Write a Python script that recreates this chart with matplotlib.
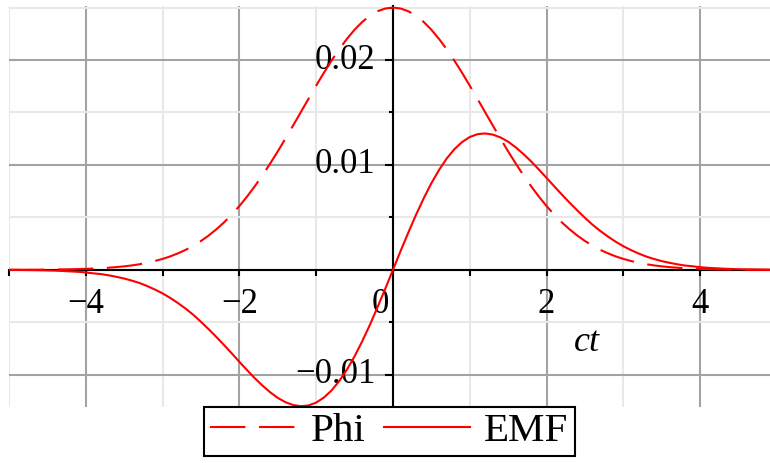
import matplotlib.pyplot as plt
from matplotlib.ticker import MultipleLocator

plt.rcParams['font.family'] = ['Liberation Serif', 'DejaVu Serif']

# values, step 0.1 in ct
ct = [-5.0, -4.9, -4.8, -4.7, -4.6, -4.5, -4.4, -4.3, -4.2, -4.1,
      -4.0, -3.9, -3.8, -3.7, -3.6, -3.5, -3.4, -3.3, -3.2, -3.1,
      -3.0, -2.9, -2.8, -2.7, -2.6, -2.5, -2.4, -2.3, -2.2, -2.1,
      -2.0, -1.9, -1.8, -1.7, -1.6, -1.5, -1.4, -1.3, -1.2, -1.1,
      -1.0, -0.9, -0.8, -0.7, -0.6, -0.5, -0.4, -0.3, -0.2, -0.1,
      0.0, 0.1, 0.2, 0.3, 0.4, 0.5, 0.6, 0.7, 0.8, 0.9,
      1.0, 1.1, 1.2, 1.3, 1.4, 1.5, 1.6, 1.7, 1.8, 1.9,
      2.0, 2.1, 2.2, 2.3, 2.4, 2.5, 2.6, 2.7, 2.8, 2.9,
      3.0, 3.1, 3.2, 3.3, 3.4, 3.5, 3.6, 3.7, 3.8, 3.9,
      4.0, 4.1, 4.2, 4.3, 4.4, 4.5, 4.6, 4.7, 4.8, 4.9, 5.0]
phi = [0.00000, 0.00000, 0.00000, 0.00001, 0.00001, 0.00002, 0.00003, 0.00004, 0.00005, 0.00007,
       0.00009, 0.00012, 0.00015, 0.00020, 0.00026, 0.00033, 0.00042, 0.00053, 0.00067, 0.00084,
       0.00104, 0.00128, 0.00157, 0.00190, 0.00229, 0.00275, 0.00327, 0.00386, 0.00452, 0.00526,
       0.00608, 0.00698, 0.00796, 0.00900, 0.01012, 0.01129, 0.01251, 0.01376, 0.01503, 0.01630,
       0.01756, 0.01878, 0.01994, 0.02103, 0.02201, 0.02289, 0.02363, 0.02422, 0.02465, 0.02491,
       0.02500, 0.02491, 0.02465, 0.02422, 0.02363, 0.02289, 0.02201, 0.02103, 0.01994, 0.01878,
       0.01756, 0.01630, 0.01503, 0.01376, 0.01251, 0.01129, 0.01012, 0.00900, 0.00796, 0.00698,
       0.00608, 0.00526, 0.00452, 0.00386, 0.00327, 0.00275, 0.00229, 0.00190, 0.00157, 0.00128,
       0.00104, 0.00084, 0.00067, 0.00053, 0.00042, 0.00033, 0.00026, 0.00020, 0.00015, 0.00012,
       0.00009, 0.00007, 0.00005, 0.00004, 0.00003, 0.00002, 0.00001, 0.00001, 0.00000, 0.00000, 0.00000]
emf = [-0.00001, -0.00001, -0.00002, -0.00003, -0.00004, -0.00006, -0.00008, -0.00011, -0.00015, -0.00019,
       -0.00025, -0.00034, -0.00041, -0.00053, -0.00067, -0.00083, -0.00103, -0.00126, -0.00155, -0.00188,
       -0.00225, -0.00268, -0.00317, -0.00370, -0.00429, -0.00496, -0.00566, -0.00640, -0.00717, -0.00796,
       -0.00877, -0.00956, -0.01033, -0.01103, -0.01167, -0.01221, -0.01262, -0.01289, -0.01300, -0.01293,
       -0.01266, -0.01218, -0.01150, -0.01061, -0.00952, -0.00825, -0.00681, -0.00524, -0.00355, -0.00180,
       0.00000, 0.00180, 0.00355, 0.00524, 0.00681, 0.00825, 0.00952, 0.01061, 0.01150, 0.01218,
       0.01266, 0.01293, 0.01300, 0.01289, 0.01262, 0.01221, 0.01167, 0.01103, 0.01033, 0.00956,
       0.00877, 0.00796, 0.00717, 0.00640, 0.00566, 0.00496, 0.00429, 0.00370, 0.00317, 0.00268,
       0.00225, 0.00188, 0.00155, 0.00126, 0.00103, 0.00083, 0.00067, 0.00053, 0.00041, 0.00034,
       0.00025, 0.00019, 0.00015, 0.00011, 0.00008, 0.00006, 0.00004, 0.00003, 0.00002, 0.00001, 0.00001]

x_labels = {-4: '\u22124', -2: '\u22122', 2: '2', 4: '4'}
y_labels = {0.02: '0.02', 0.01: '0.01', -0.01: '\u22120.01'}

fig = plt.figure(figsize=(7.7, 4.63), dpi=100)
ax = fig.add_axes([9 / 770, (463 - 406.7) / 463, 761 / 770, (406.7 - 6) / 463])
ax.set_xlim(-5, 4.91)
ax.set_ylim(-0.01305, 0.02515)

ax.xaxis.set_major_locator(MultipleLocator(2))
ax.xaxis.set_minor_locator(MultipleLocator(1))
ax.yaxis.set_major_locator(MultipleLocator(0.01))
ax.yaxis.set_minor_locator(MultipleLocator(0.005))
ax.grid(which='major', color='#a3a3a3', lw=1.5, zorder=0)
ax.grid(which='minor', color='#e8e8e8', lw=1.5, zorder=0)
ax.set_axisbelow(True)

for s in ['top', 'right']:
    ax.spines[s].set_visible(False)
for s in ['left', 'bottom']:
    ax.spines[s].set_position(('data', 0))
    ax.spines[s].set_linewidth(1.5)
ax.tick_params(axis='x', which='both', direction='out', length=4, width=1.5,
               labelbottom=False)
ax.tick_params(axis='y', which='major', direction='out', length=6, width=1.5,
               labelleft=False)
ax.tick_params(axis='y', which='minor', direction='out', length=3, width=1.5)

for xv, lab in x_labels.items():
    ax.text(xv, -0.0033, lab, ha='center', va='center', fontsize=25, zorder=1)
ax.text(-0.16, -0.0033, '0', ha='center', va='center', fontsize=25, zorder=1)
for yv, lab in y_labels.items():
    ax.text(-0.23, yv, lab, ha='right', va='center', fontsize=25, zorder=1)
ax.text(2.53, -0.0069, 'ct', ha='center', va='center', fontsize=26,
        style='italic', zorder=1)

l1, = ax.plot(ct, phi, color='red', lw=1.5, dashes=(17, 6.5), label='Phi', zorder=3)
l2, = ax.plot(ct, emf, color='red', lw=1.5, label='EMF', zorder=3)

leg = fig.legend(handles=[l1, l2], loc='upper center', ncol=2,
                 bbox_to_anchor=(389.5 / 770, (463 - 406.5) / 463),
                 fontsize=29.5, frameon=True, fancybox=False, framealpha=1,
                 edgecolor='black', borderpad=0.15, handlelength=2.1,
                 handletextpad=0.35, columnspacing=0.45, borderaxespad=0)
leg.get_frame().set_linewidth(1.5)

fig.savefig('out.png', dpi=100)
